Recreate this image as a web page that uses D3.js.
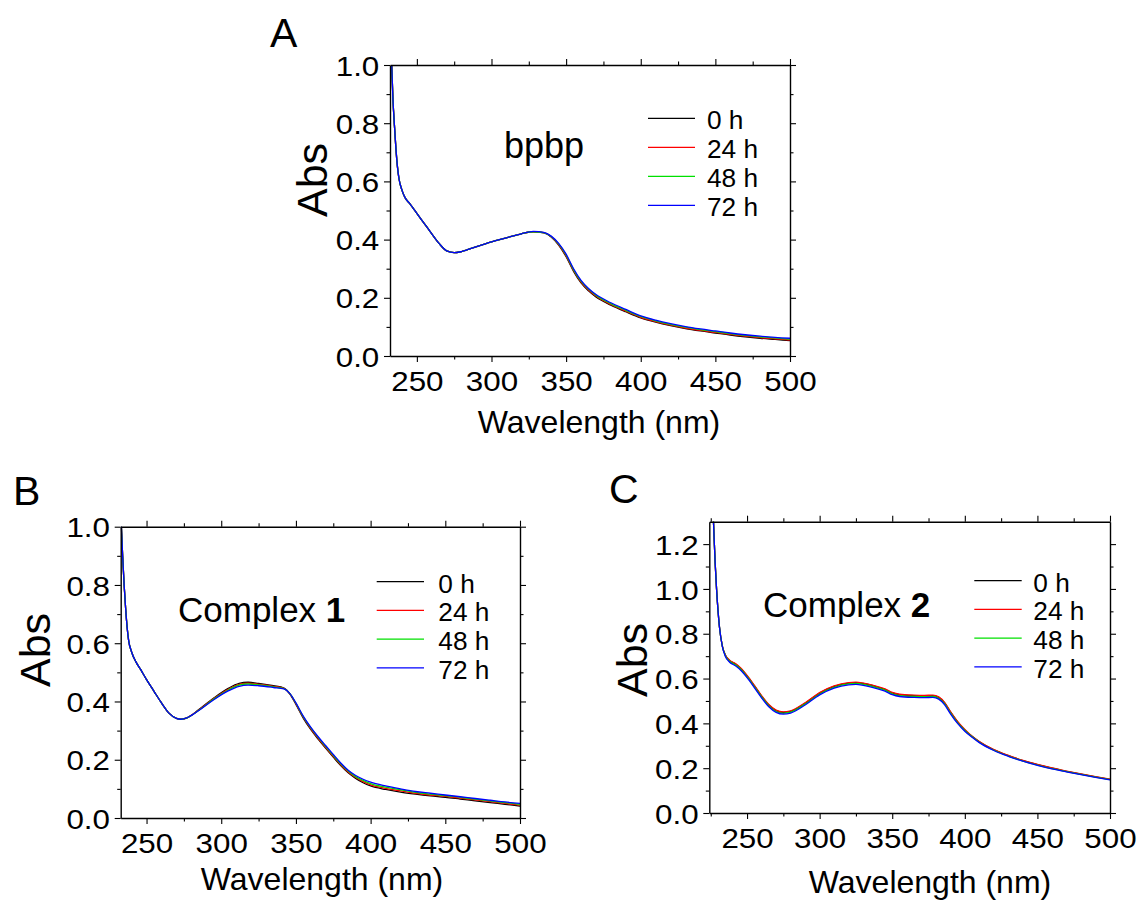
<!DOCTYPE html>
<html>
<head>
<meta charset="utf-8">
<script src="https://cdn.jsdelivr.net/npm/d3@7"></script>
<style>
  body { margin: 0; background: #fff; }
  svg { display: block; }
  svg text { font-family: "Liberation Sans", Arial, sans-serif; fill: #000; }
</style>
</head>
<body>
<div id="chart"></div>
<script>
// ------------------------------
// Data
// ------------------------------
const seriesLabels = ["0 h", "24 h", "48 h", "72 h"];
const seriesColors = ["#000000", "#ff0000", "#00e000", "#0000ff"];

const xTicksMajor = [250, 300, 350, 400, 450, 500];
const xTicksMinor = [225, 275, 325, 375, 425, 475];

// A: bpbp
const waveA = [233,234,235,236,237,238,240,242,245,250,255,260,265,270,275,280,290,300,310,320,
  328,335,340,345,350,355,360,365,370,380,390,400,410,420,430,440,450,460,470,480,490,500];
const absA_0h = [1.02,0.88,0.79,0.71,0.65,0.61,0.57,0.545,0.525,0.49,0.455,0.42,0.386,0.361,0.355,0.359,0.376,0.392,0.406,0.42,
  0.427,0.423,0.409,0.381,0.341,0.291,0.251,0.224,0.203,0.175,0.152,0.131,0.116,0.104,0.094,0.086,0.079,0.072,0.066,0.061,0.057,0.053];
const absA_24h = [1.02,0.88,0.79,0.71,0.65,0.61,0.57,0.545,0.525,0.49,0.455,0.42,0.386,0.361,0.355,0.359,0.376,0.392,0.406,0.42,
  0.427,0.424,0.41,0.383,0.344,0.294,0.254,0.227,0.206,0.177,0.154,0.133,0.118,0.106,0.096,0.088,0.081,0.074,0.068,0.063,0.059,0.055];
const absA_48h = [1.02,0.88,0.79,0.71,0.65,0.61,0.57,0.545,0.525,0.49,0.455,0.42,0.386,0.361,0.355,0.359,0.376,0.392,0.406,0.42,
  0.427,0.424,0.411,0.385,0.347,0.297,0.257,0.23,0.209,0.18,0.157,0.136,0.121,0.109,0.099,0.091,0.084,0.077,0.071,0.066,0.062,0.058];
const absA_72h = [1.02,0.88,0.79,0.71,0.65,0.61,0.57,0.545,0.525,0.49,0.455,0.42,0.386,0.361,0.355,0.359,0.376,0.392,0.406,0.42,
  0.428,0.425,0.412,0.387,0.35,0.3,0.26,0.232,0.211,0.183,0.16,0.138,0.123,0.111,0.101,0.093,0.086,0.079,0.073,0.068,0.064,0.061];

// B: complex 1
const waveB = [233,234,235,236,237,238,240,243,246,250,255,260,265,270,273,277,285,295,305,312,318,325,335,342,
  346,350,355,360,365,370,375,380,385,390,395,400,410,420,430,440,450,460,470,480,490,500];
const absB_0h = [1.02,0.9,0.8,0.72,0.655,0.61,0.57,0.535,0.51,0.475,0.435,0.395,0.36,0.342,0.339,0.344,0.372,0.412,0.446,0.462,0.466,0.462,0.454,0.446,
  0.425,0.39,0.342,0.303,0.27,0.239,0.209,0.18,0.155,0.136,0.121,0.11,0.098,0.089,0.082,0.076,0.071,0.065,0.059,0.053,0.047,0.041];
const absB_24h = [1.02,0.9,0.8,0.72,0.655,0.61,0.57,0.535,0.51,0.475,0.435,0.395,0.36,0.342,0.339,0.344,0.371,0.41,0.443,0.459,0.463,0.459,0.452,0.445,
  0.426,0.392,0.345,0.306,0.273,0.242,0.212,0.183,0.158,0.139,0.125,0.114,0.102,0.093,0.085,0.079,0.074,0.068,0.062,0.056,0.05,0.044];
const absB_48h = [1.02,0.9,0.8,0.72,0.655,0.61,0.57,0.535,0.51,0.475,0.435,0.395,0.36,0.342,0.339,0.344,0.37,0.408,0.44,0.456,0.46,0.457,0.45,0.444,
  0.427,0.394,0.347,0.309,0.276,0.245,0.215,0.186,0.161,0.142,0.129,0.118,0.106,0.097,0.088,0.082,0.077,0.071,0.065,0.059,0.053,0.047];
const absB_72h = [1.02,0.9,0.8,0.72,0.655,0.61,0.57,0.535,0.51,0.475,0.435,0.395,0.36,0.342,0.339,0.344,0.369,0.406,0.437,0.452,0.456,0.454,0.448,0.443,
  0.427,0.395,0.349,0.311,0.278,0.248,0.218,0.189,0.164,0.146,0.133,0.123,0.11,0.1,0.091,0.085,0.079,0.073,0.067,0.061,0.055,0.05];

// C: complex 2
const waveC = [226,227,228,229,231,233,235,238,242,246,250,255,260,265,270,275,280,290,300,310,320,325,330,340,345,
  350,355,365,372,378,382,386,390,395,400,405,410,420,430,440,450,460,470,480,490,500];
const absC_0h = [1.45,1.28,1.12,1.0,0.83,0.745,0.705,0.68,0.665,0.643,0.612,0.568,0.522,0.482,0.457,0.449,0.454,0.49,0.535,0.565,0.58,0.582,0.578,0.562,0.552,
  0.536,0.528,0.524,0.523,0.524,0.516,0.492,0.452,0.407,0.371,0.342,0.318,0.282,0.256,0.234,0.216,0.2,0.186,0.173,0.161,0.15];
const absC_24h = [1.45,1.28,1.12,1.0,0.83,0.745,0.706,0.682,0.667,0.645,0.614,0.57,0.524,0.484,0.459,0.451,0.456,0.492,0.537,0.567,0.582,0.584,0.58,0.564,0.554,
  0.538,0.53,0.526,0.525,0.526,0.518,0.494,0.454,0.409,0.373,0.343,0.319,0.283,0.257,0.235,0.217,0.201,0.187,0.174,0.162,0.151];
const absC_48h = [1.45,1.28,1.12,1.0,0.83,0.744,0.703,0.677,0.661,0.639,0.608,0.564,0.518,0.478,0.453,0.445,0.45,0.486,0.531,0.561,0.576,0.578,0.574,0.558,0.548,
  0.532,0.524,0.52,0.519,0.52,0.512,0.488,0.448,0.403,0.368,0.34,0.316,0.28,0.254,0.232,0.214,0.198,0.185,0.172,0.16,0.149];
const absC_72h = [1.45,1.28,1.12,1.0,0.83,0.743,0.7,0.673,0.657,0.635,0.604,0.56,0.514,0.474,0.449,0.441,0.446,0.482,0.527,0.557,0.572,0.574,0.57,0.554,0.544,
  0.528,0.52,0.516,0.515,0.516,0.508,0.484,0.444,0.4,0.365,0.338,0.314,0.279,0.253,0.231,0.213,0.197,0.184,0.171,0.159,0.148];

// ------------------------------
// Panel layout
// ------------------------------
const panels = [
  {
    id: "A", letter: [270, 47],
    box: { left: 390, right: 790, top: 65, bottom: 356 },
    xDomain: [232, 500], yDomain: [0, 1.0],
    yMajor: [0, 0.2, 0.4, 0.6, 0.8, 1.0], yMinor: [0.1, 0.3, 0.5, 0.7, 0.9],
    wave: waveA, series: [absA_0h, absA_24h, absA_48h, absA_72h],
    yTitle: [327, 180], xTitle: [599, 433],
    name: ["bpbp", null], namePos: [504, 158],
    legend: { x1: 648, x2: 695, y0: 118.3, step: 29, tx: 707 }
  },
  {
    id: "B", letter: [13, 505],
    box: { left: 120.7, right: 520, top: 526.7, bottom: 818 },
    xDomain: [232.7, 500], yDomain: [0, 1.0],
    yMajor: [0, 0.2, 0.4, 0.6, 0.8, 1.0], yMinor: [0.1, 0.3, 0.5, 0.7, 0.9],
    wave: waveB, series: [absB_0h, absB_24h, absB_48h, absB_72h],
    yTitle: [50, 650], xTitle: [322, 890],
    name: ["Complex ", "1"], namePos: [178, 622],
    legend: { x1: 376.7, x2: 424, y0: 581.7, step: 28.7, tx: 438.3 }
  },
  {
    id: "C", letter: [609, 503],
    box: { left: 709.3, right: 1110, top: 521.7, bottom: 813 },
    xDomain: [224, 500], yDomain: [0, 1.3],
    yMajor: [0, 0.2, 0.4, 0.6, 0.8, 1.0, 1.2], yMinor: [0.1, 0.3, 0.5, 0.7, 0.9, 1.1],
    wave: waveC, series: [absC_0h, absC_24h, absC_48h, absC_72h],
    yTitle: [646.7, 660], xTitle: [930, 893],
    name: ["Complex ", "2"], namePos: [763, 617],
    legend: { x1: 974.3, x2: 1021.7, y0: 580.7, step: 28.7, tx: 1033.3 }
  }
];

const TICK_FONT = 28;
const TICK_SCALE = 1.12;

const svg = d3.select("#chart").append("svg")
  .attr("width", 1142)
  .attr("height", 900);

svg.append("rect").attr("width", 1142).attr("height", 900).attr("fill", "#fff");

function styleAxis(g) {
  g.selectAll(".domain").attr("stroke", "#000").attr("stroke-width", 1.4);
  g.selectAll(".tick line").attr("stroke", "#000").attr("stroke-width", 1.1);
}

function drawPanel(p) {
  const x = d3.scaleLinear().domain(p.xDomain).range([p.box.left, p.box.right]);
  const y = d3.scaleLinear().domain(p.yDomain).range([p.box.bottom, p.box.top]);
  const g = svg.append("g").attr("class", "panel-" + p.id);

  const clipId = "clip-" + p.id;
  svg.append("defs").append("clipPath").attr("id", clipId)
    .append("rect")
    .attr("x", p.box.left).attr("y", p.box.top)
    .attr("width", p.box.right - p.box.left)
    .attr("height", p.box.bottom - p.box.top);

  // curves, black first so blue ends up on top
  const line = d3.line()
    .x(d => x(d[0]))
    .y(d => y(d[1]))
    .curve(d3.curveMonotoneX);

  g.append("g").attr("clip-path", `url(#${clipId})`)
    .selectAll("path")
    .data(p.series)
    .enter()
    .append("path")
    .attr("fill", "none")
    .attr("stroke", (d, i) => seriesColors[i])
    .attr("stroke-width", 1.3)
    .attr("d", d => line(p.wave.map((w, i) => [w, d[i]])));

  const xMinor = xTicksMinor.filter(v => v >= p.xDomain[0]);

  // bottom axis
  const bottom = g.append("g").attr("transform", `translate(0,${p.box.bottom})`)
    .call(d3.axisBottom(x).tickValues(xTicksMajor).tickSize(6).tickSizeOuter(0).tickFormat(d3.format("d")));
  bottom.selectAll("text")
    .attr("font-size", TICK_FONT)
    .attr("y", 35).attr("dy", 0)
    .attr("transform", `scale(${TICK_SCALE},1)`);
  styleAxis(bottom);
  g.append("g").attr("transform", `translate(0,${p.box.bottom})`)
    .call(d3.axisBottom(x).tickValues(xMinor).tickSize(3.5).tickFormat(""))
    .call(a => a.select(".domain").remove())
    .call(styleAxis);

  // top axis (no labels)
  g.append("g").attr("transform", `translate(0,${p.box.top})`)
    .call(d3.axisTop(x).tickValues(xTicksMajor).tickSize(6).tickSizeOuter(0).tickFormat(""))
    .call(styleAxis);
  g.append("g").attr("transform", `translate(0,${p.box.top})`)
    .call(d3.axisTop(x).tickValues(xMinor).tickSize(3.5).tickFormat(""))
    .call(a => a.select(".domain").remove())
    .call(styleAxis);

  // left axis
  const left = g.append("g").attr("transform", `translate(${p.box.left},0)`)
    .call(d3.axisLeft(y).tickValues(p.yMajor).tickSize(6).tickSizeOuter(0).tickFormat(d3.format(".1f")));
  left.selectAll("text")
    .attr("font-size", TICK_FONT)
    .attr("x", -10.7 / TICK_SCALE).attr("dy", "0.36em")
    .attr("transform", `scale(${TICK_SCALE},1)`);
  styleAxis(left);
  g.append("g").attr("transform", `translate(${p.box.left},0)`)
    .call(d3.axisLeft(y).tickValues(p.yMinor).tickSize(3.5).tickFormat(""))
    .call(a => a.select(".domain").remove())
    .call(styleAxis);

  // right axis (no labels)
  g.append("g").attr("transform", `translate(${p.box.right},0)`)
    .call(d3.axisRight(y).tickValues(p.yMajor).tickSize(6).tickSizeOuter(0).tickFormat(""))
    .call(styleAxis);
  g.append("g").attr("transform", `translate(${p.box.right},0)`)
    .call(d3.axisRight(y).tickValues(p.yMinor).tickSize(3.5).tickFormat(""))
    .call(a => a.select(".domain").remove())
    .call(styleAxis);

  // titles
  g.append("text")
    .attr("transform", `translate(${p.yTitle[0]},${p.yTitle[1]}) rotate(-90)`)
    .attr("text-anchor", "middle")
    .attr("font-size", 43)
    .text("Abs");

  g.append("text")
    .attr("x", p.xTitle[0]).attr("y", p.xTitle[1])
    .attr("text-anchor", "middle")
    .attr("font-size", 32)
    .text("Wavelength (nm)");

  g.append("text")
    .attr("x", p.letter[0]).attr("y", p.letter[1])
    .attr("font-size", 41)
    .text(p.id);

  const name = g.append("text")
    .attr("x", p.namePos[0]).attr("y", p.namePos[1])
    .attr("font-size", p.name[1] ? 35 : 36)
    .attr("xml:space", "preserve");
  name.append("tspan").text(p.name[0]);
  if (p.name[1]) name.append("tspan").attr("font-weight", "bold").text(p.name[1]);

  // legend
  const leg = g.append("g");
  seriesLabels.forEach((label, i) => {
    const ly = p.legend.y0 + i * p.legend.step;
    leg.append("line")
      .attr("x1", p.legend.x1).attr("x2", p.legend.x2)
      .attr("y1", ly).attr("y2", ly)
      .attr("stroke", seriesColors[i])
      .attr("stroke-width", 1.3);
    leg.append("text")
      .attr("x", p.legend.tx / 1.05).attr("y", ly + 11)
      .attr("transform", "scale(1.05,1)")
      .attr("font-size", 25)
      .text(label);
  });
}

panels.forEach(drawPanel);
</script>
</body>
</html>
